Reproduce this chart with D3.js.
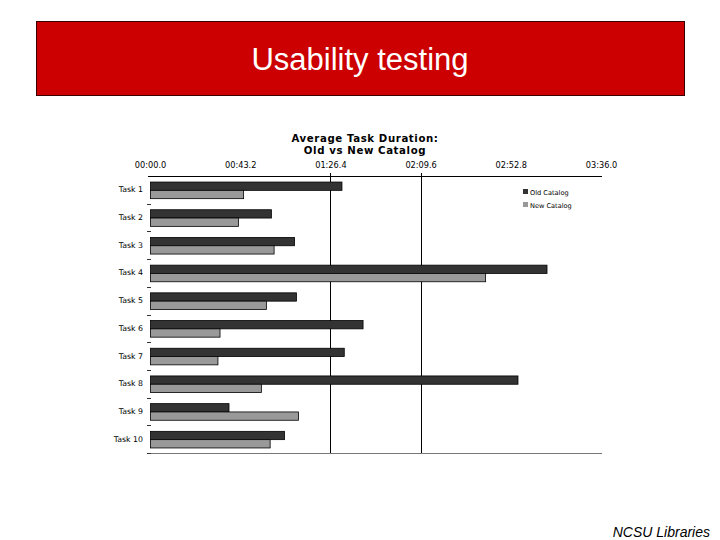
<!DOCTYPE html>
<html>
<head>
<meta charset="utf-8">
<script src="https://cdn.jsdelivr.net/npm/d3@7"></script>
<style>
  html, body { margin: 0; padding: 0; background: #fff; }
  svg { display: block; }
</style>
</head>
<body>
<svg id="chart" width="720" height="540"></svg>
<script>
// ---- data ----
const tasks = ["Task 1","Task 2","Task 3","Task 4","Task 5","Task 6","Task 7","Task 8","Task 9","Task 10"];
const seriesNames = ["Old Catalog","New Catalog"];
// seconds
const oldCatalog = [91.7, 57.9, 69.0, 189.9, 69.9, 101.8, 92.8, 176.0, 37.6, 64.2];
const newCatalog = [44.6, 42.1, 59.2, 160.5, 55.5, 33.3, 32.3, 53.1, 70.9, 57.3];
const tickValues = [0, 43.2, 86.4, 129.6, 172.8, 216];
const tickLabels = ["00:00.0","00:43.2","01:26.4","02:09.6","02:52.8","03:36.0"];
const gridValues = [86.4, 129.6];

const svg = d3.select("#chart");

// ---- slide header ----
svg.append("rect").attr("x", 36.5).attr("y", 21.5).attr("width", 648).attr("height", 74)
  .attr("fill", "#cc0000").attr("stroke", "#3a0000").attr("stroke-width", 1);
svg.append("text").attr("x", 360).attr("y", 70).attr("text-anchor", "middle")
  .attr("font-family", "Liberation Sans, Arial, sans-serif").attr("font-size", 31)
  .attr("fill", "#fff").text("Usability testing");

// ---- chart ----
const x = d3.scaleLinear().domain([0, 216]).range([150, 601]);
const y = d3.scaleBand().domain(tasks).range([176, 453]).paddingInner(0.4).paddingOuter(0.2);
const ys = d3.scaleBand().domain(seriesNames).range([0, y.bandwidth()]);
const colors = d3.scaleOrdinal().domain(seriesNames).range(["#333333", "#999999"]);

const font = "DejaVu Sans, Verdana, sans-serif";

// title
const title = svg.append("text").attr("text-anchor", "middle").attr("font-family", font)
  .attr("font-size", 10.2).attr("font-weight", "bold").attr("letter-spacing", 0.6).attr("fill", "#000");
title.append("tspan").attr("x", 365).attr("y", 142).text("Average Task Duration:");
title.append("tspan").attr("x", 365).attr("y", 154).text("Old vs New Catalog");

// top axis
const xAxis = d3.axisTop(x).tickValues(tickValues).tickFormat((d, i) => tickLabels[i]).tickSize(0).tickPadding(8);
const gx = svg.append("g").attr("transform", "translate(0,176)").call(xAxis);
gx.select(".domain").remove();
gx.selectAll("text").attr("font-family", font).attr("font-size", 8.2).attr("fill", "#000");
svg.append("line").attr("x1", 148).attr("x2", 602).attr("y1", 176.5).attr("y2", 176.5)
  .attr("stroke", "#000").attr("stroke-width", 1);

// gridlines
svg.selectAll("line.grid").data(gridValues).join("line").attr("class", "grid")
  .attr("x1", d => Math.round(x(d)) + 0.5).attr("x2", d => Math.round(x(d)) + 0.5)
  .attr("y1", 173).attr("y2", 453).attr("stroke", "#000").attr("stroke-width", 1);

// bottom line
svg.append("line").attr("x1", 148).attr("x2", 602).attr("y1", 453.5).attr("y2", 453.5)
  .attr("stroke", "#777").attr("stroke-width", 1.2);

// left axis labels and boundary ticks
const yAxis = d3.axisLeft(y).tickSize(0).tickPadding(7);
const gy = svg.append("g").attr("transform", "translate(150,0)").call(yAxis);
gy.select(".domain").remove();
gy.selectAll("text").attr("font-family", font).attr("font-size", 7.8).attr("fill", "#000");
const boundaries = tasks.slice(1).map(t => y(t) - y.step() * y.paddingInner() / 2).concat([453]);
svg.selectAll("line.btick").data(boundaries).join("line").attr("class", "btick")
  .attr("x1", 147).attr("x2", 151).attr("y1", d => Math.round(d) + 0.5).attr("y2", d => Math.round(d) + 0.5)
  .attr("stroke", "#333").attr("stroke-width", 1);

// bars
const rows = tasks.map((t, i) => ({ task: t, values: [
  { name: seriesNames[0], v: oldCatalog[i] },
  { name: seriesNames[1], v: newCatalog[i] } ] }));
const g = svg.append("g");
rows.forEach(r => {
  g.selectAll(null).data(r.values).join("rect")
    .attr("x", x(0) + 0.5)
    .attr("y", d => y(r.task) + ys(d.name) + 0.5)
    .attr("width", d => x(d.v) - x(0))
    .attr("height", ys.bandwidth())
    .attr("fill", d => colors(d.name))
    .attr("stroke", "#000").attr("stroke-width", 0.8);
});

// legend
const leg = svg.append("g").attr("transform", "translate(523,189)");
seriesNames.forEach((n, i) => {
  leg.append("rect").attr("x", 0).attr("y", i * 13).attr("width", 5).attr("height", 5)
    .attr("fill", colors(n));
  leg.append("text").attr("x", 7).attr("y", i * 13 + 5.5).attr("font-family", font)
    .attr("font-size", 6.6).attr("fill", "#000").text(n);
});

// footer
svg.append("text").attr("x", 710).attr("y", 537).attr("text-anchor", "end")
  .attr("font-family", "Liberation Sans, Arial, sans-serif").attr("font-style", "italic")
  .attr("font-size", 14).attr("fill", "#000").text("NCSU Libraries");
</script>
</body>
</html>
